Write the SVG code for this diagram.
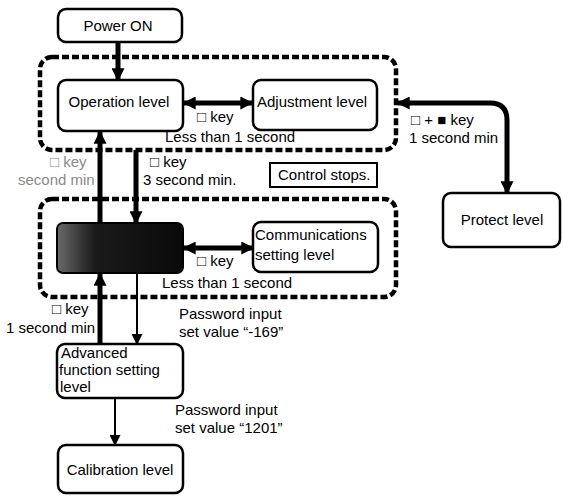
<svg xmlns="http://www.w3.org/2000/svg" width="564" height="501" viewBox="0 0 564 501">
<defs>
<style>
text{font-family:"Liberation Sans",Arial,sans-serif;font-size:15px;fill:#000}
.box{fill:#fff;stroke:#000;stroke-width:2.5}
.grp{fill:none;stroke:#000;stroke-width:4.5;stroke-dasharray:7 3}
.thick{fill:none;stroke:#000;stroke-width:5}
.thin{fill:none;stroke:#000;stroke-width:2}
.faint{fill:#8a8a8a}
</style>
<marker id="ah" viewBox="0 0 10 10" refX="9" refY="5" markerWidth="13" markerHeight="13" markerUnits="userSpaceOnUse" orient="auto-start-reverse"><path d="M0,0 L10,5 L0,10 z" fill="#000"/></marker>
<marker id="ahs" viewBox="0 0 10 10" refX="9" refY="5" markerWidth="11" markerHeight="11" markerUnits="userSpaceOnUse" orient="auto-start-reverse"><path d="M0,0 L10,5 L0,10 z" fill="#000"/></marker>
<linearGradient id="dk" x1="0" y1="0" x2="1" y2="0">
<stop offset="0" stop-color="#6a6a6a"/><stop offset="0.3" stop-color="#1a1a1a"/><stop offset="1" stop-color="#0a0a0a"/>
</linearGradient>
</defs>
<rect width="564" height="501" fill="#fff"/>

<g id="group-operation">
<rect class="grp" x="40" y="57" width="356" height="93" rx="12"/>
</g>
<g id="group-initial">
<rect class="grp" x="40" y="199" width="356" height="98" rx="12"/>
</g>

<g id="connectors">
<line class="thick" x1="118" y1="42" x2="118" y2="80" marker-end="url(#ah)"/>
<line class="thick" x1="184" y1="103" x2="252" y2="103" marker-start="url(#ah)" marker-end="url(#ah)"/>
<path class="thick" d="M398,103 H490 Q507,103 507,120 V193" marker-start="url(#ah)" marker-end="url(#ah)"/>
<line class="thick" x1="100" y1="223" x2="100" y2="132" marker-end="url(#ah)"/>
<line class="thick" x1="136" y1="150" x2="136" y2="223" marker-end="url(#ah)"/>
<line class="thick" x1="184" y1="248" x2="253" y2="248" marker-start="url(#ah)" marker-end="url(#ah)"/>
<line class="thick" x1="100" y1="344" x2="100" y2="274" marker-end="url(#ah)"/>
<line class="thin" x1="137" y1="274" x2="137" y2="344" marker-end="url(#ahs)"/>
<line class="thin" x1="115" y1="398" x2="115" y2="445" marker-end="url(#ahs)"/>
</g>

<g id="labels">
<text x="197" y="122">□ key</text>
<text x="165" y="142">Less than 1 second</text>
<text x="411" y="125">□ + ■ key</text>
<text x="409" y="143">1 second min</text>
<text class="faint" x="50" y="167">□ key</text>
<text class="faint" x="18" y="185">second min</text>
<text x="150" y="167">□ key</text>
<text x="143" y="185">3 second min.</text>
<text x="197" y="266">□ key</text>
<text x="162" y="288">Less than 1 second</text>
<text x="52" y="314">□ key</text>
<text x="6" y="333">1 second min</text>
<text x="179" y="319">Password input</text>
<text x="179" y="337">set value “-169”</text>
<text x="175" y="415">Password input</text>
<text x="175" y="433">set value “1201”</text>
</g>

<g id="power-on">
<rect class="box" x="58" y="9" width="124" height="33" rx="8"/>
<text x="118" y="31" text-anchor="middle">Power ON</text>
</g>
<g id="operation-level">
<rect class="box" x="58" y="80" width="125" height="51" rx="8"/>
<text x="119" y="107" text-anchor="middle">Operation level</text>
</g>
<g id="adjustment-level">
<rect class="box" x="253" y="80" width="124" height="50" rx="8"/>
<text x="257" y="107">Adjustment level</text>
</g>
<g id="control-stops">
<rect x="270" y="163" width="107" height="24" fill="#fff" stroke="#000" stroke-width="2"/>
<text x="278" y="180">Control stops.</text>
</g>
<g id="protect-level">
<rect class="box" x="443" y="193" width="117" height="54" rx="8"/>
<text x="502" y="225" text-anchor="middle">Protect level</text>
</g>
<g id="initial-setting-level">
<rect x="57" y="223" width="126" height="50" rx="6" fill="url(#dk)" stroke="#000" stroke-width="2"/>
</g>
<g id="communications-setting-level">
<rect class="box" x="253" y="222" width="125" height="50" rx="8"/>
<text x="255" y="240">Communications</text>
<text x="255" y="260">setting level</text>
</g>
<g id="advanced-function-setting-level">
<rect class="box" x="57" y="344" width="126" height="54" rx="8"/>
<text x="61" y="358">Advanced</text>
<text x="59" y="375">function setting</text>
<text x="60" y="392">level</text>
</g>
<g id="calibration-level">
<rect class="box" x="58" y="445" width="125" height="48" rx="8"/>
<text x="120" y="475" text-anchor="middle">Calibration level</text>
</g>
</svg>
